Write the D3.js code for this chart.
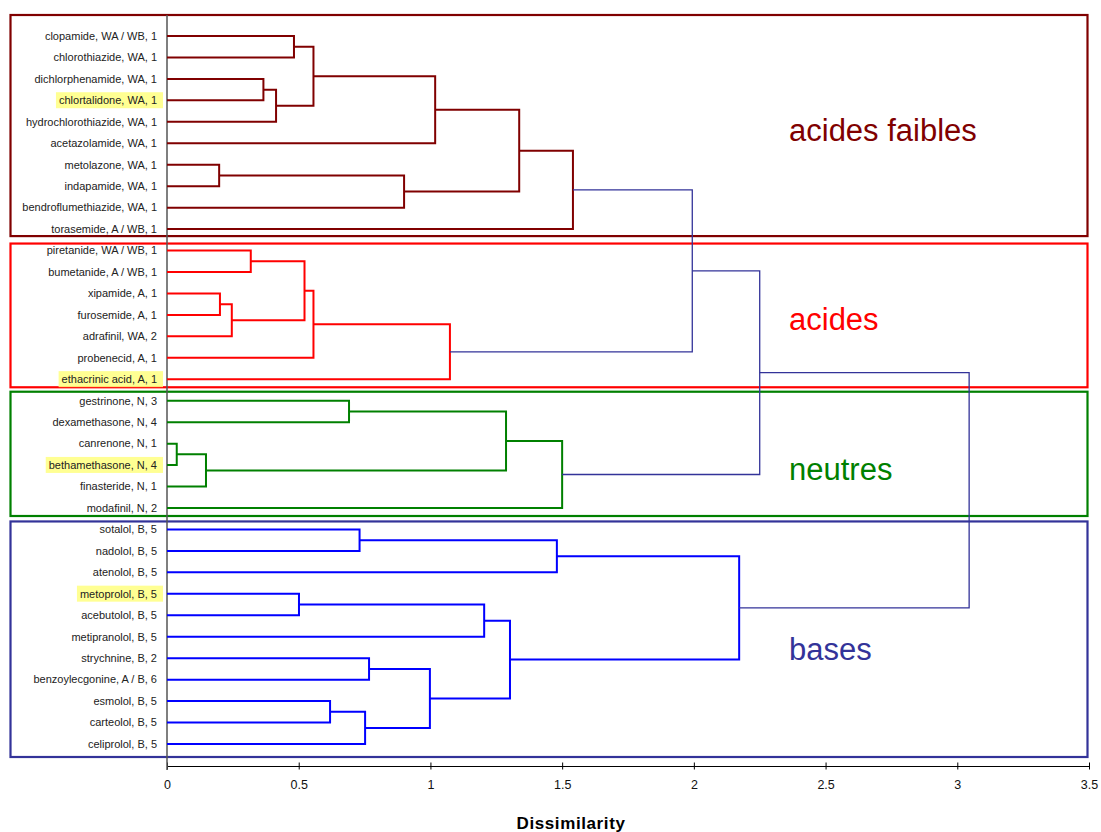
<!DOCTYPE html>
<head>
  <meta charset="utf-8">
  <script src="https://d3js.org/d3.v7.min.js"></script>
  <style>
    body {
      margin: 0;
      background: #fff;
      font-family: Arial, "Liberation Sans", sans-serif;
    }
    .leaf { font-size: 11px; fill: #222; }
    .grp { font-size: 31px; }
    .axis text { font-family: Arial, "Liberation Sans", sans-serif; font-size: 12.5px; fill: #111; }
    .axis path, .axis line { stroke: #000; }
  </style>
</head>

<body>
  <div id="chart"></div>
  <script>

  var leaves = [
    "clopamide, WA / WB, 1", "chlorothiazide, WA, 1", "dichlorphenamide, WA, 1", "chlortalidone, WA, 1",
    "hydrochlorothiazide, WA, 1", "acetazolamide, WA, 1", "metolazone, WA, 1", "indapamide, WA, 1",
    "bendroflumethiazide, WA, 1", "torasemide, A / WB, 1",
    "piretanide, WA / WB, 1", "bumetanide, A / WB, 1", "xipamide, A, 1", "furosemide, A, 1",
    "adrafinil, WA, 2", "probenecid, A, 1", "ethacrinic acid, A, 1",
    "gestrinone, N, 3", "dexamethasone, N, 4", "canrenone, N, 1", "bethamethasone, N, 4",
    "finasteride, N, 1", "modafinil, N, 2",
    "sotalol, B, 5", "nadolol, B, 5", "atenolol, B, 5", "metoprolol, B, 5", "acebutolol, B, 5",
    "metipranolol, B, 5", "strychnine, B, 2", "benzoylecgonine, A / B, 6", "esmolol, B, 5",
    "carteolol, B, 5", "celiprolol, B, 5"
  ];

  var groupNames = ["acides faibles", "acides", "neutres", "bases"];
  var groupSizes = [10, 7, 6, 11];

  var highlighted = ["chlortalidone, WA, 1", "ethacrinic acid, A, 1", "bethamethasone, N, 4", "metoprolol, B, 5"];

  // linkage rows [left, right, dissimilarity]; ids >= leaves.length refer to earlier rows
  var merges = [
    [0, 1, 0.482], [2, 3, 0.366], [35, 4, 0.414], [34, 36, 0.556], [37, 5, 1.018],
    [6, 7, 0.198], [39, 8, 0.900], [38, 40, 1.337], [41, 9, 1.541],
    [10, 11, 0.318], [12, 13, 0.201], [44, 14, 0.246], [43, 45, 0.522], [46, 15, 0.556], [47, 16, 1.074],
    [42, 48, 1.994],
    [17, 18, 0.691], [19, 20, 0.037], [51, 21, 0.148], [50, 52, 1.287], [53, 22, 1.500],
    [49, 54, 2.250],
    [23, 24, 0.731], [56, 25, 1.480], [26, 27, 0.501], [58, 28, 1.204], [29, 30, 0.767],
    [31, 32, 0.619], [61, 33, 0.752], [60, 62, 0.998], [59, 63, 1.302], [57, 64, 2.172],
    [55, 65, 3.045]
  ];

  var xTicks = [0, 0.5, 1, 1.5, 2, 2.5, 3, 3.5];

  var width = 1101, height = 832;
  var linkColors = ["#800000", "#ff0000", "#008000", "#0000ff"],
      boxColors = ["#800000", "#ff0000", "#008000", "#333399"],
      topColor = "#333399",
      boxPad = [[21, 7], [7, 8], [9, 8], [8, 13]],
      labelY = [141, 330, 480, 660];

  var svg = d3.select("#chart").append("svg")
      .attr("width", width)
      .attr("height", height);

  var x = d3.scaleLinear().domain([0, 3.5]).range([167, 1089]);
  var y = d3.scalePoint().domain(d3.range(leaves.length)).range([36, 744]);

  // group of each leaf, and first/last leaf of each group
  var leafGroup = [], spans = [], start = 0;
  groupSizes.forEach(function(s, g) {
    spans.push([start, start + s - 1]);
    for (var i = 0; i < s; i++) leafGroup.push(g);
    start += s;
  });

  var nodes = leaves.map(function(d, i) { return {h: 0, y: y(i), group: leafGroup[i]} });
  merges.forEach(function(m) {
    var a = nodes[m[0]], b = nodes[m[1]];
    nodes.push({h: m[2], y: (a.y + b.y) / 2, group: a.group === b.group ? a.group : -1, a: a, b: b});
  });
  var inner = nodes.slice(leaves.length);

  // group boxes
  svg.selectAll(".box")
      .data(spans)
    .enter().append("rect")
      .attr("class", "box")
      .attr("x", 10.5)
      .attr("width", 1077)
      .attr("y", function(d, i) { return y(d[0]) - boxPad[i][0] })
      .attr("height", function(d, i) { return y(d[1]) - y(d[0]) + boxPad[i][0] + boxPad[i][1] })
      .style("fill", "none")
      .style("stroke", function(d, i) { return boxColors[i] })
      .style("stroke-width", 2.2);

  // axis
  var axis = svg.append("g")
      .attr("class", "axis")
      .attr("transform", "translate(0,766.5)")
      .call(d3.axisBottom(x).tickValues(xTicks).tickSize(3).tickPadding(11).tickFormat(function(d) { return String(d) }));
  axis.select(".domain").attr("d", "M" + x(0) + ",0H" + x(3.5));
  axis.selectAll(".tick line").attr("y1", -4);

  svg.append("line")
      .attr("x1", x(0)).attr("x2", x(0))
      .attr("y1", y(0) - boxPad[0][0]).attr("y2", 770)
      .style("stroke", "#555")
      .style("stroke-width", 1.5);

  svg.append("text")
      .attr("x", 571)
      .attr("y", 829)
      .attr("text-anchor", "middle")
      .style("font-weight", "bold")
      .style("font-size", "17px")
      .style("letter-spacing", "0.6px")
      .text("Dissimilarity");

  // dendrogram links
  svg.selectAll(".link")
      .data(inner)
    .enter().append("path")
      .attr("class", "link")
      .attr("d", function(d) {
        return "M" + x(d.a.h) + "," + d.a.y + "H" + x(d.h) + "V" + d.b.y + "H" + x(d.b.h);
      })
      .style("fill", "none")
      .style("stroke", function(d) { return d.group < 0 ? topColor : linkColors[d.group] })
      .style("stroke-width", function(d) { return d.group < 0 ? 1.3 : 2 });

  // leaf labels
  var labels = svg.selectAll(".leaf")
      .data(leaves)
    .enter().append("text")
      .attr("class", "leaf")
      .attr("x", 157)
      .attr("y", function(d, i) { return y(i) })
      .attr("dy", "0.35em")
      .attr("text-anchor", "end")
      .text(function(d) { return d });

  labels.filter(function(d) { return highlighted.indexOf(d) >= 0 }).each(function(d, i) {
    var b = this.getBBox();
    svg.insert("rect", ".leaf")
        .attr("x", b.x - 3)
        .attr("y", b.y - 2)
        .attr("width", 163 - b.x + 3)
        .attr("height", b.height + 4)
        .style("fill", "#ffff80")
        .style("opacity", 0.85);
  });

  // group names
  svg.selectAll(".grp")
      .data(groupNames)
    .enter().append("text")
      .attr("class", "grp")
      .attr("x", 789)
      .attr("y", function(d, i) { return labelY[i] })
      .style("fill", function(d, i) { return boxColors[i] })
      .text(function(d) { return d });

  </script>
</body>
